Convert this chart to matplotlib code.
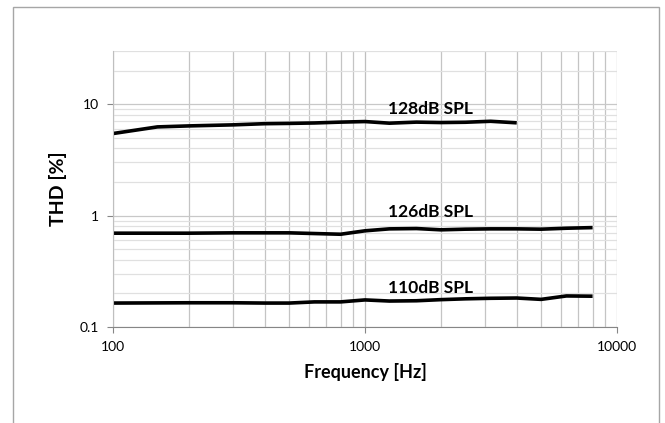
import numpy as np
import matplotlib
matplotlib.use('Agg')
import matplotlib.pyplot as plt
from matplotlib.patches import Rectangle

# data
freq_128 = [100, 150, 200, 300, 400, 500, 630, 800, 1000, 1250, 1600, 2000, 2500, 3150, 4000]
thd_128 = [5.45, 6.25, 6.38, 6.52, 6.68, 6.72, 6.78, 6.9, 6.98, 6.75, 6.9, 6.84, 6.88, 7.02, 6.8]

freq_126 = [100, 200, 300, 400, 500, 630, 800, 1000, 1250, 1600, 2000, 2500, 3150, 4000, 5000, 6300, 8000]
thd_126 = [0.695, 0.695, 0.70, 0.70, 0.70, 0.69, 0.68, 0.73, 0.76, 0.765, 0.745, 0.755, 0.76, 0.76, 0.755, 0.77, 0.78]

freq_110 = [100, 200, 300, 400, 500, 630, 800, 1000, 1250, 1600, 2000, 2500, 3150, 4000, 5000, 6300, 8000]
thd_110 = [0.164, 0.165, 0.165, 0.164, 0.164, 0.168, 0.168, 0.175, 0.171, 0.172, 0.176, 0.179, 0.181, 0.182, 0.177, 0.190, 0.189]

curve_labels = ['128dB SPL', '126dB SPL', '110dB SPL']
label_x = [1824, 1824, 1824]
label_y = [9.0, 1.08, 0.224]

xticks = [100, 1000, 10000]
xtick_labels = ['100', '1000', '10000']
yticks = [0.1, 1, 10]
ytick_labels = ['0.1', '1', '10']

fig = plt.figure(figsize=(6.65, 4.23), dpi=100)
ax = fig.add_axes([113/665, (423-327)/423, 504/665, 276/423])

# outer chart border
fig.patches.append(Rectangle((13/665, -0.05), 646/665, 1.0335, transform=fig.transFigure,
                             fill=False, edgecolor='#a6a6a6', lw=1.0))

ax.set_xscale('log')
ax.set_yscale('log')
ax.set_xlim(100, 10000)
ax.set_ylim(0.1, 30)

# grid lines
ax.set_axisbelow(True)
ax.grid(True, which='major', axis='x', color='#bfbfbf', lw=0.9)
ax.grid(True, which='minor', axis='x', color='#c4c4c4', lw=0.9)
ax.grid(True, which='major', axis='y', color='#c8c8c8', lw=0.9)
ax.grid(True, which='minor', axis='y', color='#e0e0e0', lw=0.9)

for f, t in [(freq_128, thd_128), (freq_126, thd_126), (freq_110, thd_110)]:
    ax.plot(f, t, color='black', lw=2.6, solid_capstyle='butt')

for s, xx, yy in zip(curve_labels, label_x, label_y):
    ax.text(xx, yy, s, ha='center', va='center', fontsize=12.5, fontweight='bold', family='Lato')

ax.set_xticks(xticks)
ax.set_xticklabels(xtick_labels)
ax.set_yticks(yticks)
ax.set_yticklabels(ytick_labels)
ax.tick_params(which='minor', length=0)
ax.tick_params(which='major', length=4, color='#868686', labelsize=10, direction='out')
ax.tick_params(axis='x', pad=6)
ax.tick_params(axis='y', pad=6)
for lab in ax.get_xticklabels() + ax.get_yticklabels():
    lab.set_family('Lato')

for sp in ['top', 'right']:
    ax.spines[sp].set_visible(False)
ax.spines['left'].set_color('#bfbfbf')
ax.spines['bottom'].set_color('#868686')

ax.set_xlabel('Frequency [Hz]', fontsize=13, fontweight='bold', family='Lato', labelpad=7)
ax.set_ylabel('THD [%]', fontsize=14, fontweight='bold', family='Lato', labelpad=9)

plt.savefig('out.png', dpi=100)
